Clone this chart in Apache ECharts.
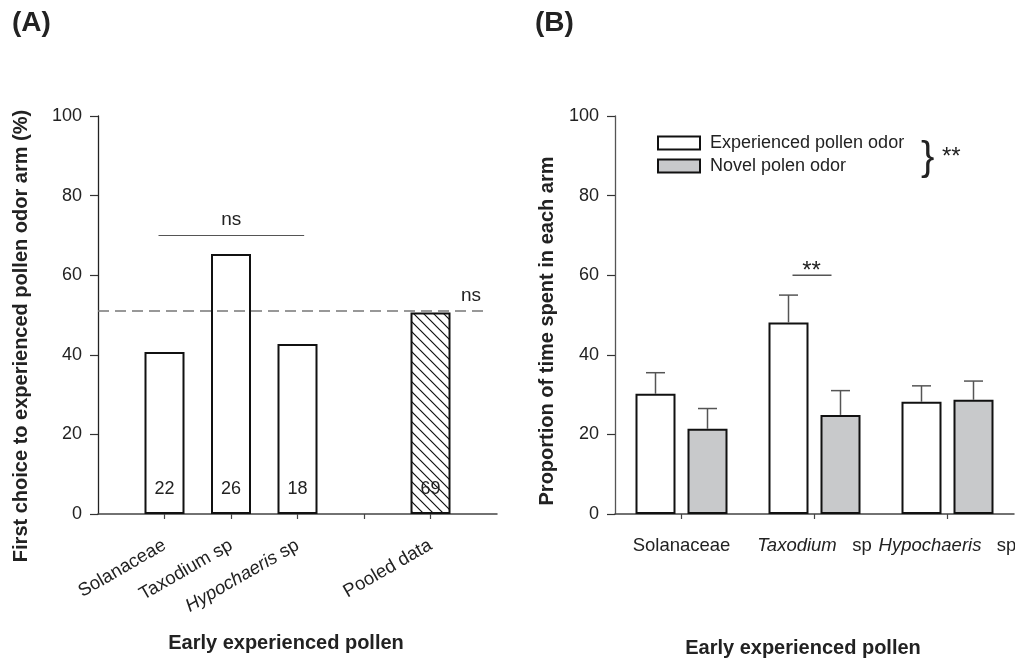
<!DOCTYPE html>
<html>
<head>
<meta charset="utf-8">
<script src="https://cdn.jsdelivr.net/npm/echarts@6/dist/echarts.min.js"></script>
<style>
html,body{margin:0;padding:0;background:#fff}
#chart{width:1015px;height:660px}
</style>
</head>
<body>
<div id="chart"></div>
<script>
// panel A - first choice
const catA = ['Solanaceae', 'Taxodium sp', 'Hypochaeris sp', 'Pooled data']
const posA = [1, 2, 3, 5]
const valA = [40.7, 65.3, 42.7, 50.6]
const countA = [22, 26, 18, 69]
const chanceA = 51
const nsLineA = [0.91, 3.1, 70.1] // from, to, height

// panel B - time spent
const catB = ['Solanaceae', 'Taxodium sp', 'Hypochaeris sp']
const expB = [30.2, 48.1, 28.2]
const expTopB = [35.5, 55.0, 32.2]
const novB = [21.4, 24.9, 28.7]
const novTopB = [26.5, 31.0, 33.4]
const starB = [1, 60]

const FONT = 'Liberation Sans, Arial, sans-serif'
const TXT = '#222'

function hatch() {
  const c = document.createElement('canvas')
  c.width = 10; c.height = 10
  const g = c.getContext('2d')
  g.fillStyle = '#fff'
  g.fillRect(0, 0, 10, 10)
  g.strokeStyle = '#111'
  g.lineWidth = 1.2
  g.beginPath()
  g.moveTo(-2, -2); g.lineTo(12, 12)
  g.moveTo(-2, 8); g.lineTo(2, 12)
  g.moveTo(8, -2); g.lineTo(12, 2)
  g.stroke()
  return c
}

function labelA(v) {
  const i = posA.indexOf(v)
  if (i < 0) return ''
  const s = catA[i]
  if (s === 'Hypochaeris sp') return '{i|Hypochaeris} sp'
  return s
}

function labelB(s) {
  if (s === 'Taxodium sp') return '{i|Taxodium}   sp'
  if (s === 'Hypochaeris sp') return '{i|Hypochaeris}   sp'
  return s
}

function errBar(offset) {
  return function (params, api) {
    const top = api.coord([api.value(0), api.value(2)])
    const base = api.coord([api.value(0), api.value(1)])
    const x = top[0] + offset
    return {
      type: 'group',
      children: [
        { type: 'line', shape: { x1: x, y1: base[1], x2: x, y2: top[1] }, style: { stroke: '#555', lineWidth: 1.5 } },
        { type: 'line', shape: { x1: x - 9.5, y1: top[1], x2: x + 9.5, y2: top[1] }, style: { stroke: '#555', lineWidth: 1.5 } }
      ]
    }
  }
}

const yAxisBase = {
  type: 'value',
  min: 0,
  max: 100,
  interval: 20,
  splitLine: { show: false },
  axisTick: { show: true, length: 8, lineStyle: { color: '#333', width: 1.2 } },
  axisLabel: { fontSize: 18, color: TXT, fontFamily: FONT, margin: 16 }
}

const chart = echarts.init(document.getElementById('chart'))

chart.setOption({
  animation: false,
  backgroundColor: '#fff',
  textStyle: { fontFamily: FONT },
  grid: [
    { left: 98, top: 116, width: 399, height: 398, containLabel: false, outerBoundsMode: 'none' },
    { left: 615, top: 116, width: 399, height: 398, containLabel: false, outerBoundsMode: 'none' }
  ],
  legend: {
    data: ['Experienced pollen odor', 'Novel polen odor'],
    orient: 'vertical',
    left: 652,
    top: 129,
    itemWidth: 42,
    itemHeight: 13,
    itemGap: 5,
    icon: 'rect',
    textStyle: { fontSize: 18, color: TXT, fontFamily: FONT, padding: [0, 0, 0, 5] }
  },
  xAxis: [
    {
      type: 'value',
      gridIndex: 0,
      min: 0,
      max: 6,
      interval: 1,
      splitLine: { show: false },
      axisLine: { lineStyle: { color: '#444', width: 1.5 } },
      axisTick: { show: true, length: 5, customValues: [1, 2, 3, 4, 5], lineStyle: { color: '#444', width: 1.2 } },
      axisLabel: {
        customValues: posA,
        rotate: 30,
        margin: 30,
        fontSize: 18.5,
        color: TXT,
        fontFamily: FONT,
        formatter: labelA,
        rich: { i: { fontStyle: 'italic', fontSize: 18.5, color: TXT, fontFamily: FONT } }
      }
    },
    {
      type: 'category',
      gridIndex: 1,
      data: catB,
      axisLine: { lineStyle: { color: '#444', width: 1.5 } },
      axisTick: { show: true, length: 5, alignWithLabel: true, lineStyle: { color: '#444', width: 1.2 } },
      axisLabel: {
        interval: 0,
        hideOverlap: false,
        margin: 22,
        fontSize: 18.5,
        color: TXT,
        fontFamily: FONT,
        formatter: labelB,
        rich: { i: { fontStyle: 'italic', fontSize: 18.5, color: TXT, fontFamily: FONT } }
      }
    }
  ],
  yAxis: [
    Object.assign({}, yAxisBase, {
      gridIndex: 0,
      axisLine: { show: true, lineStyle: { color: '#222', width: 1.3 } }
    }),
    Object.assign({}, yAxisBase, {
      gridIndex: 1,
      axisLine: { show: true, lineStyle: { color: '#555', width: 1.3 } }
    })
  ],
  series: [
    {
      type: 'bar',
      xAxisIndex: 0,
      yAxisIndex: 0,
      barWidth: 40,
      itemStyle: { color: '#fff', borderColor: '#111', borderWidth: 2 },
      data: posA.map((x, i) => ({
        value: [x, valA[i]],
        itemStyle: catA[i] === 'Pooled data' ? { color: { image: hatch(), repeat: 'repeat' } } : undefined
      })),
      label: {
        show: true,
        position: 'insideBottom',
        distance: 16,
        fontSize: 18,
        color: TXT,
        fontFamily: FONT,
        formatter: p => String(countA[p.dataIndex])
      },
      markLine: {
        silent: true,
        symbol: 'none',
        animation: false,
        data: [
          [
            { coord: [0, chanceA], lineStyle: { type: [11, 6], color: '#777', width: 1.5 }, label: { show: true, formatter: 'ns', position: 'insideEndTop', fontSize: 19, color: TXT, distance: [8, 6] } },
            { coord: [5.88, chanceA] }
          ],
          [
            { coord: [nsLineA[0], nsLineA[2]], lineStyle: { type: 'solid', color: '#555', width: 1.2 }, label: { show: true, formatter: 'ns', position: 'middle', fontSize: 19, color: TXT, distance: 6 } },
            { coord: [nsLineA[1], nsLineA[2]] }
          ]
        ]
      }
    },
    {
      name: 'Experienced pollen odor',
      type: 'bar',
      xAxisIndex: 1,
      yAxisIndex: 1,
      barWidth: 40,
      barGap: '30%',
      itemStyle: { color: '#fff', borderColor: '#111', borderWidth: 2 },
      data: expB
    },
    {
      name: 'Novel polen odor',
      type: 'bar',
      xAxisIndex: 1,
      yAxisIndex: 1,
      barWidth: 40,
      barGap: '30%',
      itemStyle: { color: '#c8c9cb', borderColor: '#111', borderWidth: 2 },
      data: novB
    },
    {
      type: 'custom',
      xAxisIndex: 1,
      yAxisIndex: 1,
      z: 3,
      renderItem: errBar(-26),
      encode: { x: 0, y: 2 },
      data: expB.map((v, i) => [i, v, expTopB[i]])
    },
    {
      type: 'custom',
      xAxisIndex: 1,
      yAxisIndex: 1,
      z: 3,
      renderItem: errBar(26),
      encode: { x: 0, y: 2 },
      data: novB.map((v, i) => [i, v, novTopB[i]])
    },
    {
      type: 'custom',
      xAxisIndex: 1,
      yAxisIndex: 1,
      z: 3,
      encode: { x: 0, y: 1 },
      renderItem: function (params, api) {
        const c = api.coord([api.value(0), api.value(1)])
        return {
          type: 'group',
          children: [
            { type: 'line', shape: { x1: c[0] - 22, y1: c[1], x2: c[0] + 17, y2: c[1] }, style: { stroke: '#555', lineWidth: 1.5 } },
            { type: 'text', x: c[0] - 3, y: c[1] - 16, style: { text: '**', fontSize: 24, fontFamily: FONT, fill: TXT, align: 'center', verticalAlign: 'top' } }
          ]
        }
      },
      data: [starB]
    }
  ],
  graphic: [
    { type: 'text', left: 12, top: 9, style: { text: '(A)', fontSize: 28, fontWeight: 'bold', fill: TXT, fontFamily: FONT } },
    { type: 'text', left: 535, top: 9, style: { text: '(B)', fontSize: 28, fontWeight: 'bold', fill: TXT, fontFamily: FONT } },
    { type: 'text', x: 286, y: 643, style: { text: 'Early experienced pollen', fontSize: 20, fontWeight: 'bold', fill: TXT, fontFamily: FONT, align: 'center', verticalAlign: 'middle' } },
    { type: 'text', x: 803, y: 648, style: { text: 'Early experienced pollen', fontSize: 20, fontWeight: 'bold', fill: TXT, fontFamily: FONT, align: 'center', verticalAlign: 'middle' } },
    { type: 'text', x: 21, y: 336, rotation: Math.PI / 2, style: { text: 'First choice to experienced pollen odor arm (%)', fontSize: 20, fontWeight: 'bold', fill: TXT, fontFamily: FONT, align: 'center', verticalAlign: 'middle' } },
    { type: 'text', x: 547, y: 331, rotation: Math.PI / 2, style: { text: 'Proportion of time spent in each arm', fontSize: 20, fontWeight: 'bold', fill: TXT, fontFamily: FONT, align: 'center', verticalAlign: 'middle' } },
    { type: 'text', x: 921, y: 139, style: { text: '}', fontSize: 40, fill: TXT, fontFamily: FONT } },
    { type: 'text', x: 942, y: 145, style: { text: '**', fontSize: 24, fill: TXT, fontFamily: FONT } }
  ]
})
</script>
</body>
</html>
